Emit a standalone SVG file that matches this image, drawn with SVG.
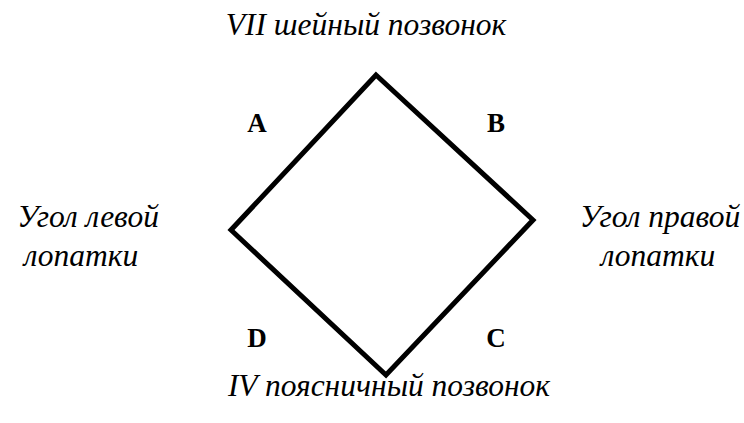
<svg xmlns="http://www.w3.org/2000/svg" width="744" height="423" viewBox="0 0 744 423">
<style>
.lbl{font-family:"Liberation Serif","Times New Roman",serif;font-style:italic;font-size:31.5px;fill:#000}
.let{font-family:"Liberation Serif","Times New Roman",serif;font-weight:bold;font-size:27px;fill:#000}
</style>
<rect width="744" height="423" fill="#fff"/>
<g id="connectors">
<polygon points="376,75 533,220 386,375 231,230" fill="none" stroke="#000" stroke-width="5" stroke-linejoin="miter"/>
</g>
<g id="top"><text class="lbl" x="366" y="35" text-anchor="middle">VII шейный позвонок</text></g>
<g id="bottom"><text class="lbl" x="389" y="396" text-anchor="middle">IV поясничный позвонок</text></g>
<g id="left"><text class="lbl" x="88" y="227" text-anchor="middle">Угол левой</text><text class="lbl" x="81" y="266" text-anchor="middle">лопатки</text></g>
<g id="right"><text class="lbl" x="660" y="227" text-anchor="middle">Угол правой</text><text class="lbl" x="658" y="266" text-anchor="middle">лопатки</text></g>
<g id="A"><text class="let" x="257" y="132" text-anchor="middle">A</text></g>
<g id="B"><text class="let" x="496" y="132" text-anchor="middle">B</text></g>
<g id="C"><text class="let" x="496" y="347" text-anchor="middle">C</text></g>
<g id="D"><text class="let" x="257" y="347" text-anchor="middle">D</text></g>
</svg>
